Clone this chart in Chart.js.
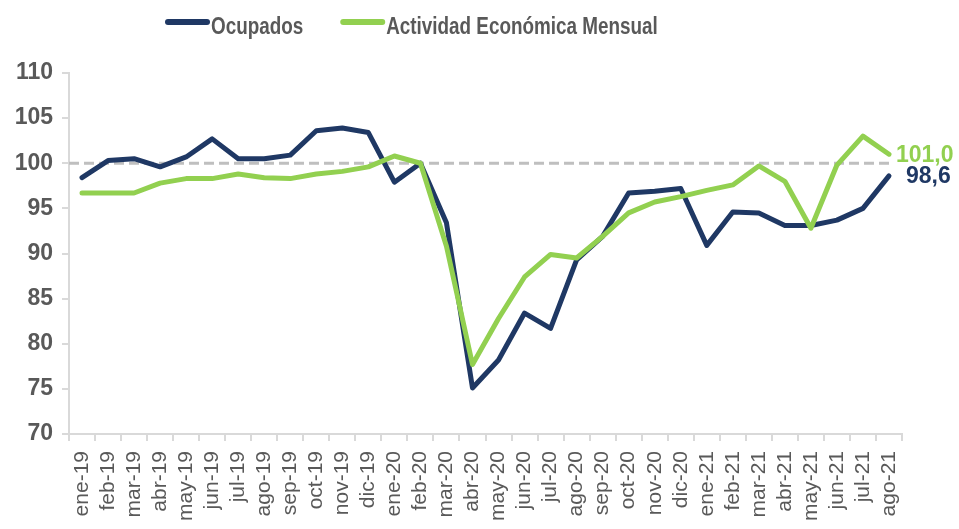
<!DOCTYPE html>
<html>
<head>
    <meta charset="UTF-8">
    <title>Ocupados vs Actividad Económica</title>
    <script src="https://cdn.jsdelivr.net/npm/chart.js"></script>
    <style>
        html, body { margin: 0; padding: 0; background: #fff; }
        #wrap { width: 959px; height: 529px; }
    </style>
</head>
<body>
    <div id="wrap"><canvas id="lineChart"></canvas></div>

    <script>
        // months shown on the x axis
        const meses = ['ene-19','feb-19','mar-19','abr-19','may-19','jun-19','jul-19','ago-19','sep-19','oct-19','nov-19','dic-19',
                       'ene-20','feb-20','mar-20','abr-20','may-20','jun-20','jul-20','ago-20','sep-20','oct-20','nov-20','dic-20',
                       'ene-21','feb-21','mar-21','abr-21','may-21','jun-21','jul-21','ago-21'];

        // index values (feb-20 = 100)
        const ocupados = [98.4, 100.3, 100.5, 99.6, 100.7, 102.7, 100.5, 100.5, 100.9, 103.6, 103.9, 103.4,
                          97.9, 100.0, 93.4, 75.1, 78.2, 83.4, 81.7, 89.3, 91.9, 96.7, 96.9, 97.2,
                          90.9, 94.6, 94.5, 93.1, 93.1, 93.7, 95.0, 98.6];
        const actividad = [96.7, 96.7, 96.7, 97.8, 98.3, 98.3, 98.8, 98.4, 98.3, 98.8, 99.1, 99.6,
                           100.8, 100.0, 90.8, 77.7, 82.8, 87.4, 89.9, 89.5, 91.9, 94.5, 95.7, 96.3,
                           97.0, 97.6, 99.7, 98.0, 92.8, 99.8, 103.0, 101.0];

        const yMin = 70, yMax = 110, yStep = 5;
        const refLine = 100;

        const navy = '#1F3864';
        const green = '#92D050';
        const gray = '#595959';
        const font = "'Liberation Sans', Arial, sans-serif";

        // dashed reference line at 100
        const refLinePlugin = {
            id: 'refLine',
            beforeDatasetsDraw(chart) {
                const {ctx, chartArea, scales} = chart;
                const y = scales.y.getPixelForValue(refLine);
                ctx.save();
                ctx.strokeStyle = '#BFBFBF';
                ctx.lineWidth = 3;
                ctx.setLineDash([10, 5]);
                ctx.beginPath();
                ctx.moveTo(chartArea.left, y);
                ctx.lineTo(chartArea.right - 8, y);
                ctx.stroke();
                ctx.restore();
            }
        };

        // last value labels at the end of each line
        const endLabels = {
            id: 'endLabels',
            afterDatasetsDraw(chart) {
                const {ctx} = chart;
                ctx.save();
                ctx.font = 'bold 23px ' + font;
                ctx.textBaseline = 'middle';
                chart.data.datasets.forEach((ds, i) => {
                    const meta = chart.getDatasetMeta(i);
                    const pt = meta.data[meta.data.length - 1];
                    const v = ds.data[ds.data.length - 1];
                    ctx.fillStyle = ds.borderColor;
                    ctx.fillText(v.toFixed(1).replace('.', ','), pt.x + ds.labelDx, pt.y + 1);
                });
                ctx.restore();
            }
        };

        // legend drawn by hand so it can sit where the original has it
        const topLegend = {
            id: 'topLegend',
            afterDraw(chart) {
                const {ctx} = chart;
                const sx = 0.82;
                let x = 165;
                ctx.save();
                ctx.font = 'bold 23px ' + font;
                ctx.textBaseline = 'alphabetic';
                chart.data.datasets.forEach(ds => {
                    ctx.strokeStyle = ds.borderColor;
                    ctx.lineWidth = 6;
                    ctx.lineCap = 'round';
                    ctx.beginPath();
                    ctx.moveTo(x + 3, 22);
                    ctx.lineTo(x + 42, 22);
                    ctx.stroke();
                    x += 46;
                    ctx.fillStyle = gray;
                    ctx.save();
                    ctx.translate(x, 34);
                    ctx.scale(sx, 1);
                    ctx.fillText(ds.label, 0, 0);
                    ctx.restore();
                    x += ctx.measureText(ds.label).width * sx + 37;
                });
                ctx.restore();
            }
        };

        const ctx = document.getElementById('lineChart').getContext('2d');
        const chart = new Chart(ctx, {
            type: 'line',
            data: {
                labels: meses,
                datasets: [{
                    label: 'Ocupados',
                    data: ocupados,
                    borderColor: navy,
                    backgroundColor: navy,
                    borderWidth: 5,
                    pointRadius: 0,
                    tension: 0,
                    borderJoinStyle: 'round',
                    borderCapStyle: 'round',
                    order: 1,
                    labelDx: 17
                }, {
                    label: 'Actividad Económica Mensual',
                    data: actividad,
                    borderColor: green,
                    backgroundColor: green,
                    borderWidth: 5,
                    pointRadius: 0,
                    tension: 0,
                    borderJoinStyle: 'round',
                    borderCapStyle: 'round',
                    order: 0,
                    labelDx: 7
                }]
            },
            options: {
                responsive: true,
                maintainAspectRatio: false,
                animation: false,
                layout: {
                    padding: { top: 73, right: 57, left: 0, bottom: 0 }
                },
                scales: {
                    x: {
                        offset: true,
                        grid: {
                            offset: true,
                            drawOnChartArea: false,
                            color: '#D9D9D9',
                            lineWidth: 2,
                            tickLength: 7
                        },
                        border: { color: '#D9D9D9', width: 2 },
                        ticks: {
                            autoSkip: false,
                            minRotation: 90,
                            maxRotation: 90,
                            padding: 10,
                            color: gray,
                            font: { family: font, size: 21 }
                        },
                        afterFit(scale) { scale.height = 95; }
                    },
                    y: {
                        min: yMin,
                        max: yMax,
                        grid: {
                            drawOnChartArea: false,
                            color: '#D9D9D9',
                            lineWidth: 2,
                            tickLength: 7
                        },
                        border: { color: '#D9D9D9', width: 2 },
                        ticks: {
                            stepSize: yStep,
                            padding: 9,
                            color: gray,
                            font: { family: font, size: 23, weight: 'bold' }
                        },
                        afterFit(scale) { scale.width = 69; }
                    }
                },
                plugins: {
                    legend: { display: false },
                    tooltip: { enabled: false }
                }
            },
            plugins: [refLinePlugin, endLabels, topLegend]
        });
    </script>
</body>
</html>
